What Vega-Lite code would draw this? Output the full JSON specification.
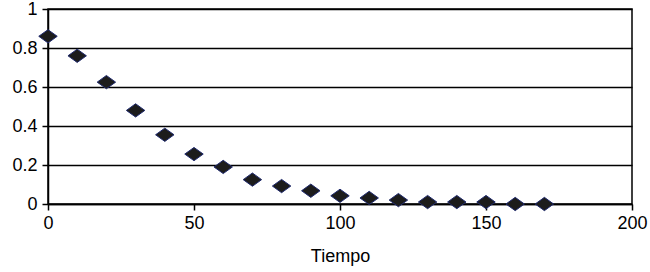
{
  "$schema": "https://vega.github.io/schema/vega-lite/v6.json",
  "autosize": "none",
  "width": 584,
  "height": 195,
  "padding": {"left": 48, "top": 9, "right": 18, "bottom": 68},
  "background": "white",
  "config": {
    "view": {"stroke": "#000000", "strokeWidth": 1.5},
    "font": "Liberation Sans"
  },
  "data": {
    "values": [
      {"t": 0, "v": 0.86},
      {"t": 10, "v": 0.76},
      {"t": 20, "v": 0.625},
      {"t": 30, "v": 0.48},
      {"t": 40, "v": 0.355},
      {"t": 50, "v": 0.256},
      {"t": 60, "v": 0.19},
      {"t": 70, "v": 0.125},
      {"t": 80, "v": 0.092},
      {"t": 90, "v": 0.068},
      {"t": 100, "v": 0.042},
      {"t": 110, "v": 0.031},
      {"t": 120, "v": 0.02},
      {"t": 130, "v": 0.01},
      {"t": 140, "v": 0.01},
      {"t": 150, "v": 0.01},
      {"t": 160, "v": 0.0},
      {"t": 170, "v": 0.0}
    ]
  },
  "mark": {
    "type": "point",
    "shape": "M-1,0L0,-0.72L1,0L0,0.72Z",
    "filled": true,
    "fill": "#1c1c1c",
    "stroke": "#1f2a6e",
    "strokeWidth": 1,
    "size": 340,
    "opacity": 1
  },
  "encoding": {
    "x": {
      "field": "t",
      "type": "quantitative",
      "scale": {"domain": [0, 200], "nice": false, "zero": false},
      "axis": {
        "title": "Tiempo",
        "values": [0, 50, 100, 150, 200],
        "grid": false,
        "labelFlush": false,
        "labelOverlap": false,
        "labelBound": false,
        "domainColor": "#000000",
        "domainWidth": 1.5,
        "tickColor": "#000000",
        "tickWidth": 1.5,
        "tickSize": 6,
        "labelFontSize": 18,
        "labelColor": "#000000",
        "labelPadding": 4,
        "titleFontSize": 18,
        "titleFontWeight": "normal",
        "titleColor": "#000000",
        "titlePadding": 15
      }
    },
    "y": {
      "field": "v",
      "type": "quantitative",
      "scale": {"domain": [0, 1], "nice": false},
      "axis": {
        "title": null,
        "values": [0, 0.2, 0.4, 0.6, 0.8, 1],
        "format": "~g",
        "grid": true,
        "labelFlush": false,
        "labelOverlap": false,
        "labelBound": false,
        "gridColor": "#000000",
        "gridWidth": 1.5,
        "gridOpacity": 1,
        "domainColor": "#000000",
        "domainWidth": 1.5,
        "tickColor": "#000000",
        "tickWidth": 1.5,
        "tickSize": 6,
        "labelFontSize": 18,
        "labelColor": "#000000",
        "labelPadding": 5
      }
    }
  }
}
